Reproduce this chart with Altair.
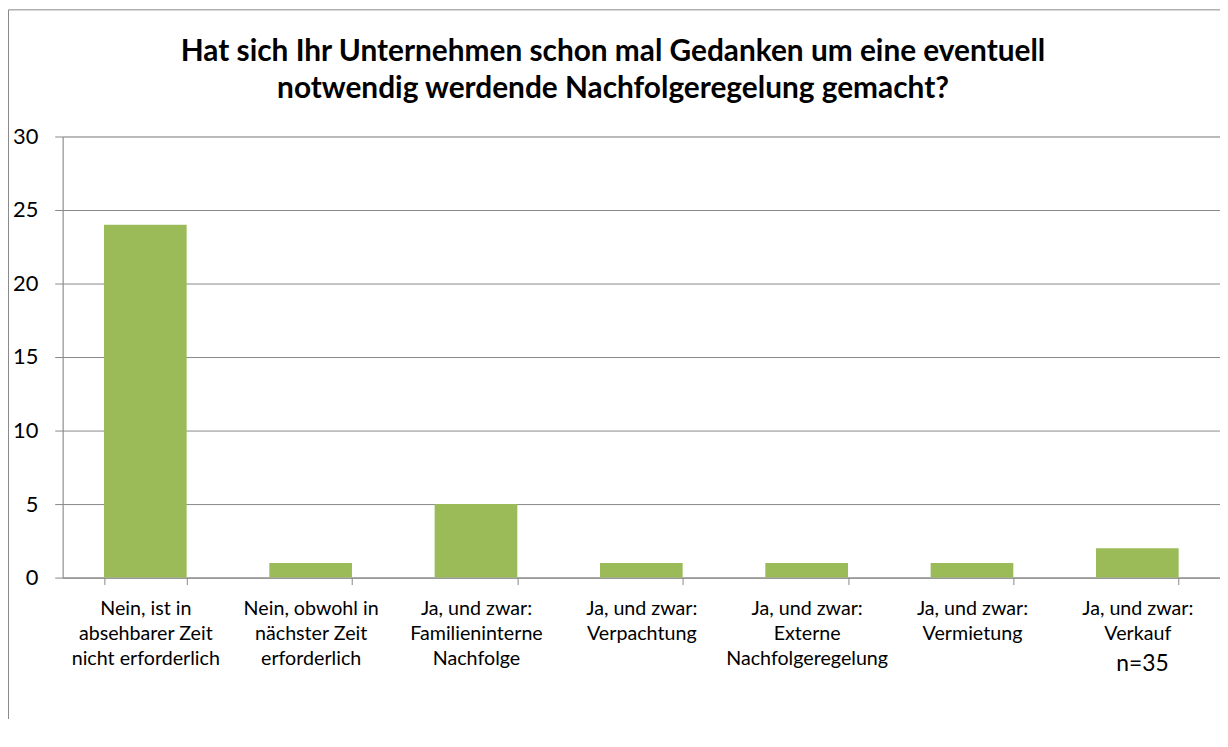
import altair as alt
import pandas as pd

categories = [
    "Nein, ist in|absehbarer Zeit|nicht erforderlich",
    "Nein, obwohl in|nächster Zeit|erforderlich",
    "Ja, und zwar:|Familieninterne|Nachfolge",
    "Ja, und zwar:|Verpachtung",
    "Ja, und zwar:|Externe|Nachfolgeregelung",
    "Ja, und zwar:|Vermietung",
    "Ja, und zwar:|Verkauf",
]
values = [24, 1, 5, 1, 1, 1, 2]
y_ticks = [0, 5, 10, 15, 20, 25, 30]
title_line1 = ["Hat sich Ihr Unternehmen schon mal Gedanken um eine eventuell"]
title_line2 = ["notwendig werdende Nachfolgeregelung gemacht?"]
note = ["n=35"]

FONT = "Lato"
GRAY = "#888888"
W, H = 1165, 444

df = pd.DataFrame({"cat": categories, "val": values})

bars = alt.Chart(df).mark_bar(color="#9BBB59").encode(
    x=alt.X(
        "cat:N",
        sort=None,
        scale=alt.Scale(paddingInner=0.5, paddingOuter=0.25),
        axis=alt.Axis(
            title=None,
            labelAngle=0,
            labelExpr="split(datum.label, '|')",
            labelFont=FONT,
            labelFontSize=19.8,
            labelColor="#000000",
            labelLineHeight=25,
            labelPadding=14,
            labelBaseline="top",
            labelLimit=0,
            tickBand="extent",
            tickSize=7,
            tickColor=GRAY,
            domainColor=GRAY,
        ),
    ),
    y=alt.Y(
        "val:Q",
        scale=alt.Scale(domain=[0, 30]),
        axis=alt.Axis(
            title=None,
            values=y_ticks,
            grid=True,
            gridColor=GRAY,
            gridOpacity=1,
            tickSize=8,
            tickColor=GRAY,
            domainColor=GRAY,
            labelFont=FONT,
            labelFontSize=22,
            labelColor="#000000",
            labelPadding=17,
        ),
    ),
)

note_text = alt.Chart(pd.DataFrame({"t": note})).mark_text(
    font=FONT, fontSize=23, color="#000000", align="center", baseline="alphabetic"
).encode(text="t:N", x=alt.value(1087), y=alt.value(538))

t1 = alt.Chart(pd.DataFrame({"t": title_line1})).mark_text(
    font=FONT, fontSize=30, fontWeight="bold", color="#000000", align="center", baseline="alphabetic"
).encode(text="t:N", x=alt.value(554), y=alt.value(-76))

t2 = alt.Chart(pd.DataFrame({"t": title_line2})).mark_text(
    font=FONT, fontSize=30, fontWeight="bold", color="#000000", align="center", baseline="alphabetic"
).encode(text="t:N", x=alt.value(554), y=alt.value(-39))

frame = alt.Chart(pd.DataFrame({"t": note})).mark_rect(filled=False, stroke=GRAY, strokeWidth=1).encode(
    x=alt.value(-54.5), x2=alt.value(1400), y=alt.value(-127.5), y2=alt.value(900)
)

chart = (
    alt.layer(frame, bars, note_text, t1, t2)
    .properties(
        width=W,
        height=H,
        autosize=alt.AutoSizeParams(type="none"),
        padding={"left": 55, "top": 127, "right": 0, "bottom": 140},
    )
    .configure_view(stroke=None)
    .configure(background="white")
)

chart.save("out.html", embed_options={"renderer": "svg", "actions": False})
